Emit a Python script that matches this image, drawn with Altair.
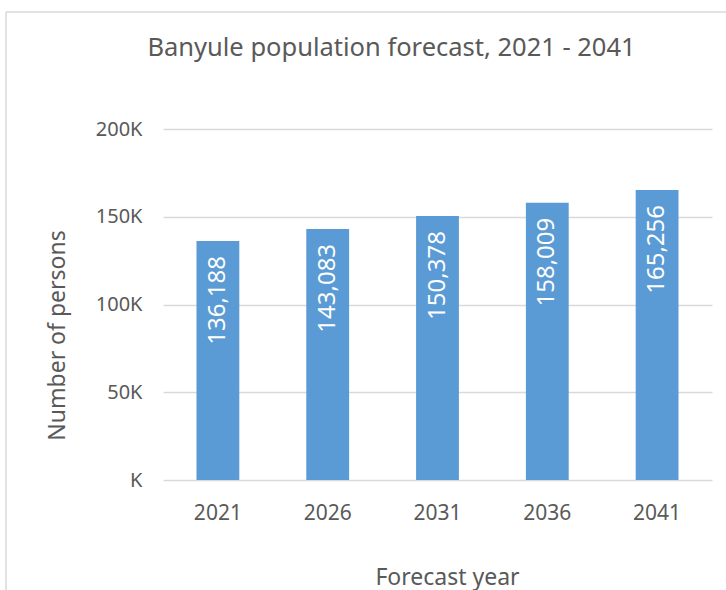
import altair as alt
import pandas as pd

years = ["2021", "2026", "2031", "2036", "2041"]
persons = [136188, 143083, 150378, 158009, 165256]
y_ticks = [0, 50000, 100000, 150000, 200000]

df = pd.DataFrame({"year": years, "persons": persons})

FONT = "Noto Sans"
GREY = "#595959"
LINE = "#d9d9d9"

base = alt.Chart(df)

x_enc = alt.X(
    "year:N",
    sort=years,
    scale=alt.Scale(paddingInner=0.61, paddingOuter=0.305),
    axis=alt.Axis(
        title="Forecast year",
        labelAngle=0,
        domain=False,
        ticks=False,
        labelPadding=22,
        labelFontSize=21,
        labelColor=GREY,
        labelFont=FONT,
        titleFont=FONT,
        titleFontSize=23,
        titleFontWeight="normal",
        titleColor=GREY,
        titleX=284,
        titleY=97,
        titleBaseline="middle",
        titleAlign="center",
    ),
)

y_enc = alt.Y(
    "persons:Q",
    scale=alt.Scale(domain=[0, 200000], nice=False),
    axis=alt.Axis(
        title="Number of persons",
        values=y_ticks,
        labelExpr="(datum.value == 0 ? '' : datum.value / 1000) + 'K'",
        domain=False,
        ticks=False,
        grid=True,
        gridColor=LINE,
        gridWidth=1.5,
        labelPadding=21,
        labelFontSize=20,
        labelColor=GREY,
        labelFont=FONT,
        titleFont=FONT,
        titleFontSize=23,
        titleFontWeight="normal",
        titleColor=GREY,
        titleX=-106,
        titleY=206,
        titleAngle=270,
        titleBaseline="middle",
        titleAlign="center",
    ),
)

bars = base.mark_bar(color="#5b9bd5").encode(x=x_enc, y=y_enc)

labels = base.mark_text(
    angle=270,
    align="right",
    baseline="middle",
    dx=-15,
    color="white",
    font=FONT,
    fontSize=24,
).encode(
    x=alt.X("year:N", sort=years),
    y=alt.Y("persons:Q"),
    text=alt.Text("persons:Q", format=",d"),
)

frame_data = alt.Data(values=[{}])
left_border = alt.Chart(frame_data).mark_rule(color=LINE, strokeWidth=1.5).encode(
    x=alt.value(-157), y=alt.value(-117), y2=alt.value(480)
)
top_border = alt.Chart(frame_data).mark_rule(color=LINE, strokeWidth=1.5).encode(
    x=alt.value(-157), x2=alt.value(580), y=alt.value(-117)
)

chart = alt.layer(left_border, top_border, bars, labels).properties(
    width=549,
    height=351,
    background="white",
    autosize=alt.AutoSizeParams(type="none"),
    padding={"left": 163, "top": 129, "right": 14, "bottom": 110},
    title=alt.TitleParams(
        "Banyule population forecast, 2021 - 2041",
        anchor="middle",
        frame="group",
        dx=-46,
        offset=-70,
        baseline="alphabetic",
        fontSize=25.5,
        font=FONT,
        fontWeight="normal",
        color=GREY,
    ),
).configure_view(stroke=None)

chart.save("out.html", embed_options={"renderer": "svg", "actions": False})
